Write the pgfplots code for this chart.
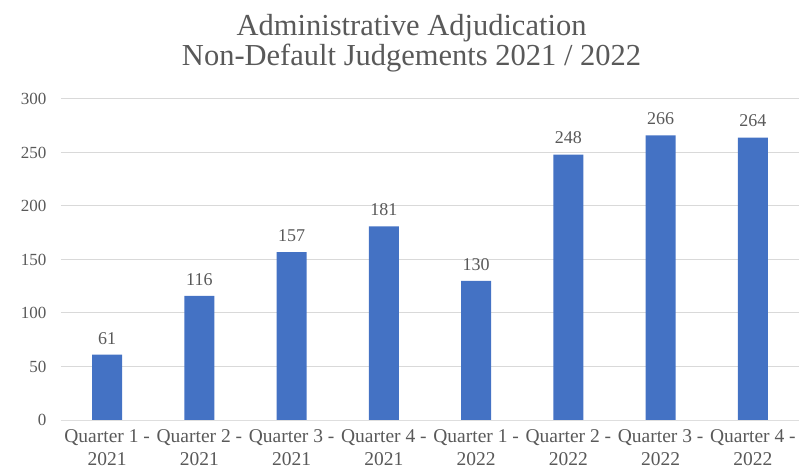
\documentclass[border=0pt]{standalone}
\usepackage{pgfplots}
\pgfplotsset{compat=1.18}
\usepackage{fontspec}
\setmainfont{Liberation Serif}
\definecolor{barblue}{HTML}{4472C4}
\definecolor{txtgray}{HTML}{595959}
\definecolor{gridgray}{HTML}{D9D9D9}
\begin{document}
\begin{tikzpicture}
\begin{axis}[
  scale only axis,
  width=738bp, height=321bp,
  ymin=0, ymax=300,
  xmin=-0.5, xmax=7.5,
  ytick={0,50,...,300},
  xtick=data,
  xticklabels={{Quarter 1 -\\2021},{Quarter 2 -\\2021},{Quarter 3 -\\2021},{Quarter 4 -\\2021},{Quarter 1 -\\2022},{Quarter 2 -\\2022},{Quarter 3 -\\2022},{Quarter 4 -\\2022}},
  xticklabel style={align=center, font=\fontsize{19.5bp}{23bp}\selectfont, text=txtgray, inner sep=0bp, yshift=-9bp},
  yticklabel style={font=\fontsize{17bp}{19bp}\selectfont, text=txtgray, xshift=-11bp},
  /pgf/number format/assume math mode=true,
  major tick length=0pt,
  ymajorgrids, grid style={gridgray, line width=1bp},
  axis line style={draw=none},
  extra y ticks={0}, extra y tick labels={},
  extra y tick style={grid style={draw=gridgray!80!black!40, line width=1bp}},
  ybar, bar width=30bp,
  nodes near coords,
  nodes near coords style={font=\fontsize{18bp}{19bp}\selectfont, text=txtgray, yshift=7bp},
  title={Administrative Adjudication\\Non-Default Judgements 2021 / 2022},
  title style={align=center, font=\fontsize{30.5bp}{30bp}\selectfont, text=txtgray, at={(0.475,1)}, anchor=south, yshift=17bp},
]
\addplot[fill=barblue, draw=none] coordinates {(0,61) (1,116) (2,157) (3,181) (4,130) (5,248) (6,266) (7,264)};
\end{axis}
\pgfresetboundingbox
\path[use as bounding box] (current axis.south west) ++(-61bp,-55bp) rectangle ++(799bp,475bp);
\end{tikzpicture}
\end{document}
